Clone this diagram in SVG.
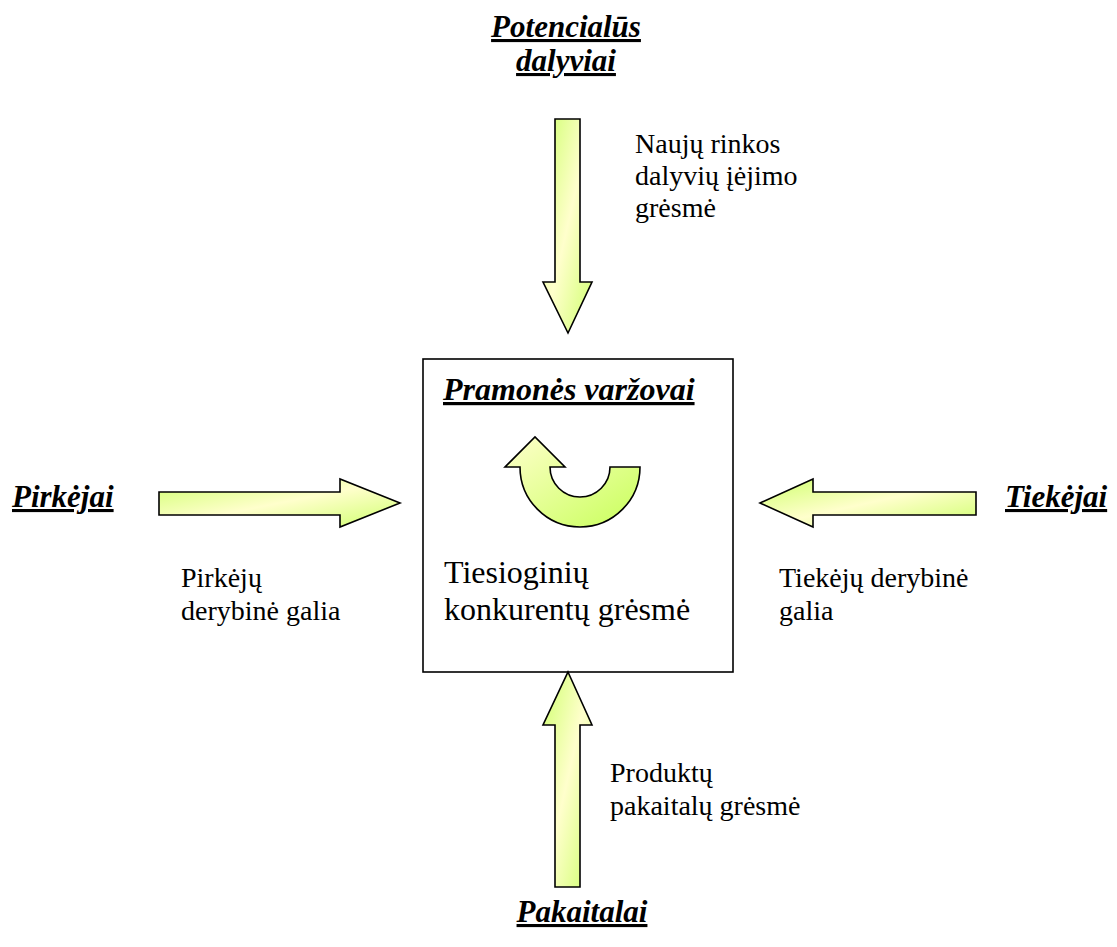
<svg xmlns="http://www.w3.org/2000/svg" width="1117" height="947" viewBox="0 0 1117 947" font-family="Liberation Serif, 'Times New Roman', 'DejaVu Serif', serif">
<defs>
<linearGradient id="g1" x1="0" y1="0" x2="1" y2="1">
<stop offset="0" stop-color="#cfff6e"/>
<stop offset="0.5" stop-color="#ffffcc"/>
<stop offset="1" stop-color="#cfff6e"/>
</linearGradient>
<linearGradient id="g2" x1="0" y1="0" x2="1" y2="1">
<stop offset="0" stop-color="#ffffcc"/>
<stop offset="1" stop-color="#c8ff5a"/>
</linearGradient>
<style>
.arr{fill:url(#g1);stroke:#000;stroke-width:1.6;stroke-linejoin:miter}
.lbl{font-family:'Liberation Serif',serif;font-weight:bold;font-style:italic;font-size:31px;text-decoration:underline;fill:#000}
.txt{font-family:'Liberation Serif',serif;font-size:28px;fill:#000}
.big{font-family:'Liberation Serif',serif;font-size:32px;fill:#000}
</style>
</defs>
<rect width="1117" height="947" fill="#fff"/>
<g id="center">
<rect x="423" y="359" width="310" height="313" fill="#fff" stroke="#000" stroke-width="1.6"/>
<text class="lbl" x="443" y="400" style="font-size:32px">Pramonės varžovai</text>
<path d="M640,467 A60,60 0 0 1 520,467 L505,467 L535,437 L565,467 L550,467 A30,30 0 0 0 610,467 Z" fill="url(#g2)" stroke="#000" stroke-width="1.6"/>
<text class="big" x="444" y="583">Tiesioginių</text>
<text class="big" x="444" y="620">konkurentų grėsmė</text>
</g>
<g id="potencialus">
<text class="lbl" x="566" y="37" text-anchor="middle">Potencialūs</text>
<text class="lbl" x="566" y="71" text-anchor="middle">dalyviai</text>
</g>
<g id="pirkejai">
<text class="lbl" x="12" y="507">Pirkėjai</text>
</g>
<g id="tiekejai">
<text class="lbl" x="1005" y="507">Tiekėjai</text>
</g>
<g id="pakaitalai">
<text class="lbl" x="582" y="922" text-anchor="middle">Pakaitalai</text>
</g>
<g id="connectors">
<path class="arr" d="M555,119 H580 V282 H592 L568,333 L543,282 H555 Z"/>
<path class="arr" d="M568,672 L592,725 H580 V887 H555 V725 H543 Z"/>
<path class="arr" d="M159,492 H340 V479 L400,503 L340,527 V515 H159 Z"/>
<path class="arr" d="M760,503 L813,479 V492 H976 V515 H813 V527 Z"/>
</g>
<g id="labels">
<text class="txt" x="635" y="153">Naujų rinkos</text>
<text class="txt" x="635" y="185">dalyvių įėjimo</text>
<text class="txt" x="635" y="217">grėsmė</text>
<text class="txt" x="181" y="587">Pirkėjų</text>
<text class="txt" x="181" y="620">derybinė galia</text>
<text class="txt" x="779" y="587">Tiekėjų derybinė</text>
<text class="txt" x="779" y="620">galia</text>
<text class="txt" x="610" y="782">Produktų</text>
<text class="txt" x="610" y="815">pakaitalų grėsmė</text>
</g>
</svg>
